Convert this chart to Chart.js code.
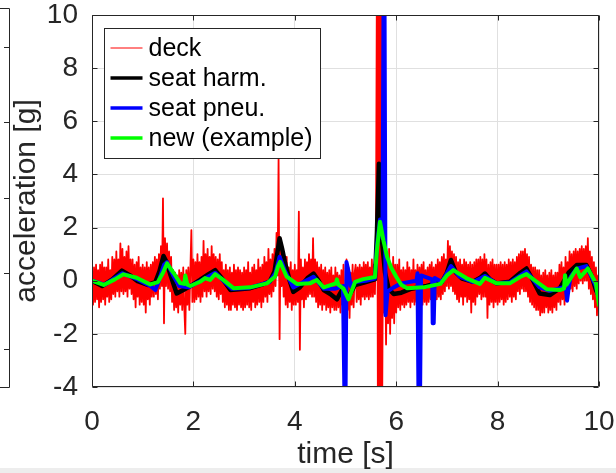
<!DOCTYPE html>
<html>
<head>
<meta charset="utf-8">
<title>acceleration</title>
<script src="https://cdn.jsdelivr.net/npm/chart.js@4/dist/chart.umd.min.js"></script>
<style>
    html, body { margin: 0; padding: 0; background: #ffffff; }
    canvas { display: block; }
</style>
</head>
<body>
<canvas id="accelChart" width="616" height="473"></canvas>
<script>
/* globals Chart:false */
(function () {
    const SAMPLE_STEP = 0.02;
    const FONT = "'Liberation Sans', Arial, Helvetica, sans-serif";
    const AXIS_COLOR = "#262626";
    const GRID_COLOR = "#e0e0e0";
    const TICK_LEN = 5;

    var xTicks = [0, 2, 4, 6, 8, 10];
    var yTicks = [-4, -2, 0, 2, 4, 6, 8, 10];

    var seriesNames = ["deck", "seat harm.", "seat pneu.", "new (example)"];

    // deck sensor, one sample every SAMPLE_STEP seconds starting at t = 0
    var deckValues = [
        0.0, -0.9, 0.5, -0.8, 0.6, -0.7, 0.4, -1.0, 0.6, -0.8,
        0.7, -0.7, 0.5, -0.9, 0.5, -0.6, 0.8, -0.8, 0.4, -0.7,
        0.9, -0.5, 0.8, -0.6, 1.1, -0.4, 0.8, -0.6, 1.4, -0.4,
        1.2, -0.5, 0.9, -0.4, 1.1, -0.6, 1.3, -0.3, 0.8, -0.5,
        0.8, -0.7, 0.6, -1.0, 0.7, -0.6, 0.9, -0.9, 0.5, -0.8,

        0.6, -0.9, 0.5, -1.2, 0.7, -0.7, 0.5, -0.9, 0.6, -0.6,
        0.7, -0.6, 0.9, -0.5, 0.8, -0.7, 1.0, -0.3, 1.3, -0.2,
        3.1, -1.6, 1.6, -0.2, 1.4, -0.3, 1.1, -0.4, 0.9, -0.8,
        0.4, -1.1, 0.3, -1.0, 0.2, -1.2, 0.4, -0.9, 0.3, -1.1,
        0.5, -1.0, -2.0, 0.4, -0.9, 0.5, -1.1, 0.4, 1.9, -0.8,

        0.8, -0.8, 0.7, -0.7, 1.0, -0.6, 0.7, -0.8, 0.9, -0.6,
        1.5, -0.4, 1.0, -0.6, 1.2, -0.4, 0.9, -0.5, 1.3, -0.3,
        1.0, -0.4, 0.9, -0.6, 0.8, -0.7, 1.0, -0.5, 0.7, -0.8,
        0.4, -1.0, 0.6, -0.9, 0.4, -1.1, 0.5, -1.1, 0.3, -0.9,
        0.6, -1.0, 0.4, -1.1, 0.5, -0.9, 0.4, -1.0, 0.3, -1.1,

        0.5, -1.0, 0.4, -0.9, 0.7, -1.0, 0.3, -1.1, 0.5, -0.8,
        0.6, -1.0, 0.4, -0.9, 0.8, -0.8, 0.5, -1.0, 0.6, -0.8,
        0.9, -0.6, 0.7, -0.8, 1.2, -0.5, 0.8, -0.6, 1.0, -0.4,
        1.2, -0.2, 1.8, 0.2, 4.6, -2.2, 1.6, -0.2, 1.1, -0.6,
        0.6, -0.9, 0.9, -1.0, 0.5, -0.8, 0.7, -1.1, 0.4, -0.9,

        0.6, -0.9, 0.4, -0.8, 2.6, -2.6, 0.8, -0.7, 0.5, -1.0,
        0.8, -0.7, 0.7, -0.6, 1.0, -0.5, 0.8, -0.6, 1.6, -0.6,
        0.8, -0.8, 0.7, -1.0, 0.5, -0.9, 0.6, -1.1, 0.4, -0.9,
        0.5, -1.1, 0.3, -1.0, 0.4, -1.2, 0.5, -1.0, 0.2, -1.1,
        0.5, -1.1, 0.3, -1.0, 0.2, -1.2, 0.4, -0.9, 0.6, -1.0,

        -1.0, 0.8, -1.1, 0.5, -1.4, 0.3, -0.9, 0.6, -1.0, 0.3,
        0.6, -0.8, 0.5, -0.7, 0.6, -0.9, 0.5, -0.6, 0.7, -0.7,
        0.6, -0.6, 0.7, -0.7, 0.5, -0.6, 0.8, -0.6, 0.6, -0.5,
        1.2, 12, -6, 12, -6, 12, -6, 1.4, -1.2, 1.3,
        -2.4, 0.9, -1.6, 1.2, -2.0, 0.6, -1.4, 0.9, -1.6, 0.6,

        -1.2, 0.6, -1.0, 0.8, -1.1, 0.4, -0.9, 0.5, -1.0, 0.4,
        -0.9, 0.7, -0.8, 0.5, -1.0, 0.4, -0.8, 0.8, -0.9, 0.4,
        -0.8, 0.6, -0.9, 0.5, -0.7, 0.6, -0.9, 0.7, -0.8, 0.4,
        -0.9, 0.5, -0.8, 0.6, -0.7, 0.7, -0.9, 0.5, -0.8, 0.6,
        -0.7, 0.8, -0.6, 0.7, -0.7, 0.9, -0.5, 1.0, -0.4, 0.8,

        -0.2, 1.5, -0.3, 1.3, -0.2, 1.1, -0.4, 1.0, -0.5, 0.9,
        -0.7, 0.7, -0.8, 0.8, -0.6, 0.6, -0.9, 0.8, -0.6, 0.7,
        -0.8, 0.6, -0.7, 0.7, -1.2, 0.6, -0.8, 0.7, -0.9, 0.8,
        -0.6, 0.8, -0.5, 0.9, -0.7, 0.8, -0.6, 1.0, -0.6, 0.8,
        -1.4, 0.6, -0.9, 0.7, -0.8, 0.8, -1.0, 0.6, -0.8, 0.6,

        -0.9, 0.6, -0.8, 0.7, -0.7, 0.6, -0.9, 0.7, -0.8, 0.6,
        -0.7, 0.8, -0.6, 0.7, -0.8, 0.8, -0.6, 0.7, -0.7, 0.9,
        -0.4, 1.0, -0.5, 1.1, -0.3, 1.1, -0.4, 1.2, -0.4, 1.0,
        -0.6, 0.9, -0.8, 0.6, -0.9, 0.5, -1.0, 0.5, -1.1, 0.4,
        -1.1, 0.4, -1.3, 0.2, -1.2, 0.3, -1.2, 0.4, -1.0, 0.2,

        -1.2, 0.3, -1.1, 0.4, -1.2, 0.2, -1.0, 0.3, -1.1, 0.3,
        -0.8, 0.6, -0.9, 0.7, -0.7, 0.5, -0.9, 0.9, -0.6, 0.7,
        -0.3, 1.1, -0.3, 1.0, -0.4, 1.1, -0.2, 1.2, -0.3, 1.1,
        -0.1, 1.2, 0.0, 1.3, -0.1, 1.2, 0.0, 1.3, 0.0, 1.6,
        -0.3, 1.1, -0.5, 0.9, -0.7, 0.7, -1.0, 0.5, -1.3, 0.2,
        -0.5
    ];

    var harmTime = [
        0.00, 0.20, 0.40, 0.59, 0.75, 0.90, 1.10, 1.25, 1.33, 1.41, 1.47, 1.55, 1.67, 1.80, 1.94,
        2.13, 2.30, 2.43, 2.58, 2.73, 2.90, 3.12, 3.35, 3.51, 3.60, 3.66, 3.70, 3.75, 3.81, 3.90, 3.97,
        4.10, 4.25, 4.37, 4.47, 4.57, 4.70, 4.83, 4.93, 5.06, 5.19, 5.40, 5.58, 5.62, 5.66, 5.69, 5.72,
        5.78, 5.85, 5.95, 6.10, 6.30, 6.60, 6.90, 7.00, 7.08, 7.18, 7.30, 7.52, 7.65, 7.75, 7.85, 7.98,
        8.24, 8.45, 8.57, 8.70, 8.83, 9.03, 9.23, 9.40, 9.56, 9.75, 9.85, 9.94, 10.00
    ];
    var harmValues = [
        0.00, -0.20, 0.05, 0.38, 0.20, -0.02, -0.16, -0.05, 0.35, 0.93, 0.70, 0.20, -0.48, -0.35, -0.20,
        0.03, 0.25, 0.40, 0.05, -0.35, -0.32, -0.28, -0.15, -0.02, 0.35, 1.10, 1.60, 1.20, 0.65, 0.00, -0.42,
        -0.25, 0.10, 0.27, 0.00, -0.35, -0.50, -0.70, -0.35, -0.60, -0.16, -0.05, 0.05, 1.80, 4.40, 3.20, 1.50,
        0.30, -0.30, -0.50, -0.45, -0.30, -0.20, -0.05, 0.30, 0.78, 0.30, 0.08, -0.04, 0.10, 0.27, 0.05, -0.10,
        -0.04, 0.30, 0.46, 0.00, -0.48, -0.54, -0.28, 0.30, 0.59, 0.59, 0.20, -0.35, -0.60
    ];

    var pneuTime = [
        0.00, 0.25, 0.60, 0.90, 1.15, 1.25, 1.30, 1.42, 1.48, 1.60, 1.72, 1.90, 2.13, 2.43, 2.75,
        3.10, 3.50, 3.62, 3.70, 3.80, 3.97, 4.37, 4.57, 4.80, 4.95, 4.98, 5.00, 5.02, 5.06, 5.10,
        5.19, 5.40, 5.58, 5.62, 5.68, 5.73, 5.75, 5.77, 5.79, 5.83, 5.95, 6.10, 6.40, 6.42, 6.44,
        6.47, 6.49, 6.71, 6.72, 6.74, 6.76, 6.90, 7.08, 7.25, 7.52, 7.75, 7.98, 8.24, 8.57, 8.83,
        9.03, 9.28, 9.35, 9.37, 9.40, 9.44, 9.56, 9.75, 9.94, 10.00
    ];
    var pneuValues = [
        0.00, -0.15, 0.28, 0.05, -0.20, -0.35, -0.10, 0.60, 0.70, 0.20, -0.20, -0.25, -0.02, 0.30, -0.30,
        -0.27, -0.05, 0.30, 0.90, 0.40, -0.25, 0.15, -0.30, -0.30, -0.20, -4.50, -4.50, 0.70, 0.35, -0.20,
        -0.05, 0.00, 0.08, 1.30, 2.30, 1.60, 10.50, 10.50, -1.30, -0.40, -0.25, -0.10, 0.00, 0.28, -4.50,
        -4.50, 0.20, 0.05, -1.60, -1.60, 0.10, -0.05, 0.55, 0.15, -0.05, 0.18, -0.10, -0.06, 0.35, -0.25,
        -0.38, -0.25, -0.35, -0.75, -0.30, 0.15, 0.45, 0.55, -0.20, -0.70
    ];

    var newTime = [
        0.00, 0.23, 0.45, 0.62, 0.88, 1.15, 1.30, 1.40, 1.48, 1.55, 1.61, 1.74, 1.82, 1.84, 1.88, 1.94,
        2.13, 2.23, 2.33, 2.43, 2.59, 2.79, 3.12, 3.45, 3.61, 3.67, 3.71, 3.77, 3.84, 4.04, 4.30, 4.43,
        4.57, 4.81, 4.83, 4.86, 4.96, 5.06, 5.19, 5.35, 5.58, 5.62, 5.68, 5.75, 5.82, 5.90, 6.00, 6.10,
        6.21, 6.54, 6.87, 7.00, 7.13, 7.25, 7.39, 7.65, 7.75, 7.98, 8.24, 8.45, 8.57, 8.77, 8.97, 9.23,
        9.31, 9.33, 9.36, 9.56, 9.63, 9.78, 9.94, 10.00
    ];
    var newValues = [
        0.00, -0.16, 0.05, 0.24, 0.11, -0.14, -0.05, 0.30, 0.65, 0.45, 0.29, -0.09, -0.12, 0.20, -0.15, -0.20,
        -0.04, 0.10, 0.03, 0.25, 0.03, -0.28, -0.25, -0.10, 0.15, 0.55, 0.71, 0.45, 0.15, -0.12, -0.10, 0.03,
        -0.25, -0.10, 0.05, -0.15, -0.30, -0.70, -0.04, 0.06, 0.14, 1.16, 2.22, 1.50, 0.90, 0.50, 0.15, -0.15,
        -0.28, -0.25, -0.12, 0.20, 0.40, 0.25, 0.09, -0.12, 0.11, -0.10, -0.10, 0.15, 0.25, -0.04, -0.32, -0.35,
        -0.30, 0.21, -0.15, 0.46, 0.13, 0.46, -0.10, -0.92
    ];

    var deckTime = deckValues.map((v, i) => Math.round(i * SAMPLE_STEP * 100) / 100);

    function toPoints(times, values) {
        return values.map((v, i) => ({ x: times[i], y: v }));
    }

    function lineSet(label, points, color, width, order) {
        return {
            label: label,
            data: points,
            borderColor: color,
            backgroundColor: color,
            borderWidth: width,
            borderJoinStyle: "round",
            borderCapStyle: "round",
            pointRadius: 0,
            pointHoverRadius: 0,
            tension: 0,
            fill: false,
            order: order
        };
    }

    function drawNeighbourPanel(ctx) {
        // edge of the subplot sitting to the left
        ctx.strokeStyle = AXIS_COLOR;
        ctx.lineWidth = 1;
        ctx.beginPath();
        ctx.moveTo(0, 8.5);
        ctx.lineTo(9.5, 8.5);
        ctx.lineTo(9.5, 387.5);
        ctx.lineTo(0, 387.5);
        [47, 122, 198, 273, 349].forEach(y => {
            ctx.moveTo(9.5, y + 0.5);
            ctx.lineTo(4, y + 0.5);
        });
        ctx.stroke();
    }

    function drawBox(chart) {
        var ctx = chart.ctx,
            a = chart.chartArea,
            xs = chart.scales.x,
            ys = chart.scales.y;

        var l = Math.round(a.left) + 0.5,
            r = Math.round(a.right) - 0.5,
            t = Math.round(a.top) + 0.5,
            b = Math.round(a.bottom) - 0.5;

        ctx.save();
        ctx.strokeStyle = AXIS_COLOR;
        ctx.lineWidth = 1;
        ctx.beginPath();
        xTicks.forEach(v => {
            var px = Math.round(xs.getPixelForValue(v)) + 0.5;
            ctx.moveTo(px, b);
            ctx.lineTo(px, b - TICK_LEN);
            ctx.moveTo(px, t);
            ctx.lineTo(px, t + TICK_LEN);
        });
        yTicks.forEach(v => {
            var py = Math.round(ys.getPixelForValue(v)) + 0.5;
            ctx.moveTo(l, py);
            ctx.lineTo(l + TICK_LEN, py);
            ctx.moveTo(r, py);
            ctx.lineTo(r - TICK_LEN, py);
        });
        ctx.rect(l, t, r - l, b - t);
        ctx.stroke();
        ctx.restore();
    }

    function drawLegend(chart) {
        var ctx = chart.ctx,
            a = chart.chartArea,
            sets = chart.data.datasets;

        ctx.save();
        ctx.font = "25px " + FONT;

        var textW = Math.max.apply(null, sets.map(d => ctx.measureText(d.label).width));
        var left = Math.round(a.left) + 12.5,
            top = Math.round(a.top) + 13.5,
            rowH = 30.3,
            w = Math.round(44 + textW + 8),
            h = 130;

        ctx.fillStyle = "#ffffff";
        ctx.fillRect(left, top, w, h);
        ctx.strokeStyle = AXIS_COLOR;
        ctx.lineWidth = 1;
        ctx.strokeRect(left, top, w, h);

        ctx.textBaseline = "middle";
        ctx.textAlign = "left";
        sets.forEach((d, i) => {
            var y = Math.round(top + 19 + i * rowH);
            ctx.strokeStyle = d.borderColor;
            ctx.lineWidth = d.legendWidth;
            ctx.beginPath();
            ctx.moveTo(left + 6, y);
            ctx.lineTo(left + 38, y);
            ctx.stroke();
            ctx.fillStyle = "#000000";
            ctx.fillText(d.label, left + 44, y + 1);
        });
        ctx.restore();
    }

    var framePlugin = {
        id: "frame",
        beforeDraw(chart) {
            var ctx = chart.ctx;
            ctx.save();
            ctx.fillStyle = "#ffffff";
            ctx.fillRect(0, 0, chart.width, chart.height);
            ctx.fillStyle = "#ededed";
            ctx.fillRect(0, chart.height - 5, chart.width, 5);
            drawNeighbourPanel(ctx);
            ctx.restore();
        },
        afterDatasetsDraw(chart) {
            drawBox(chart);
            drawLegend(chart);
        }
    };

    var datasets = [
        lineSet(seriesNames[0], toPoints(deckTime, deckValues), "#ff0000", 1.8, 4),
        lineSet(seriesNames[1], toPoints(harmTime, harmValues), "#000000", 4.5, 3),
        lineSet(seriesNames[2], toPoints(pneuTime, pneuValues), "#0000ff", 4, 2),
        lineSet(seriesNames[3], toPoints(newTime, newValues), "#00ff00", 4, 1)
    ];
    datasets[0].legendWidth = 1;
    datasets[1].legendWidth = 3.5;
    datasets[2].legendWidth = 3.5;
    datasets[3].legendWidth = 3.5;

    Chart.defaults.font.family = FONT;
    Chart.defaults.color = AXIS_COLOR;

    new Chart(document.getElementById("accelChart"), {
        type: "line",
        data: { datasets: datasets },
        options: {
            responsive: false,
            animation: false,
            devicePixelRatio: 1,
            layout: { padding: { top: 15, right: 17, bottom: 0, left: 0 } },
            plugins: {
                legend: { display: false },
                tooltip: { enabled: false }
            },
            scales: {
                x: {
                    type: "linear",
                    min: 0,
                    max: 10,
                    afterBuildTicks: scale => {
                        scale.ticks = xTicks.map(v => ({ value: v }));
                    },
                    afterFit: scale => {
                        scale.height = 86;
                        scale.paddingLeft = 0;
                        scale.paddingRight = 0;
                    },
                    ticks: {
                        color: AXIS_COLOR,
                        padding: 18,
                        maxRotation: 0,
                        autoSkip: false,
                        font: { size: 28 }
                    },
                    grid: { color: GRID_COLOR, drawTicks: false },
                    border: { display: false },
                    title: {
                        display: true,
                        text: "time [s]",
                        color: AXIS_COLOR,
                        font: { size: 30 },
                        padding: { top: 0, bottom: 0 }
                    }
                },
                y: {
                    type: "linear",
                    min: -4,
                    max: 10,
                    afterBuildTicks: scale => {
                        scale.ticks = yTicks.map(v => ({ value: v }));
                    },
                    afterFit: scale => {
                        scale.width = 92;
                        scale.paddingTop = 0;
                        scale.paddingBottom = 0;
                    },
                    ticks: {
                        color: AXIS_COLOR,
                        padding: 14,
                        font: { size: 28 }
                    },
                    grid: { color: GRID_COLOR, drawTicks: false },
                    border: { display: false },
                    title: {
                        display: true,
                        text: "acceleration [g]",
                        color: AXIS_COLOR,
                        font: { size: 30 },
                        padding: { top: 9, bottom: 0 }
                    }
                }
            }
        },
        plugins: [framePlugin]
    });
})();
</script>
</body>
</html>
